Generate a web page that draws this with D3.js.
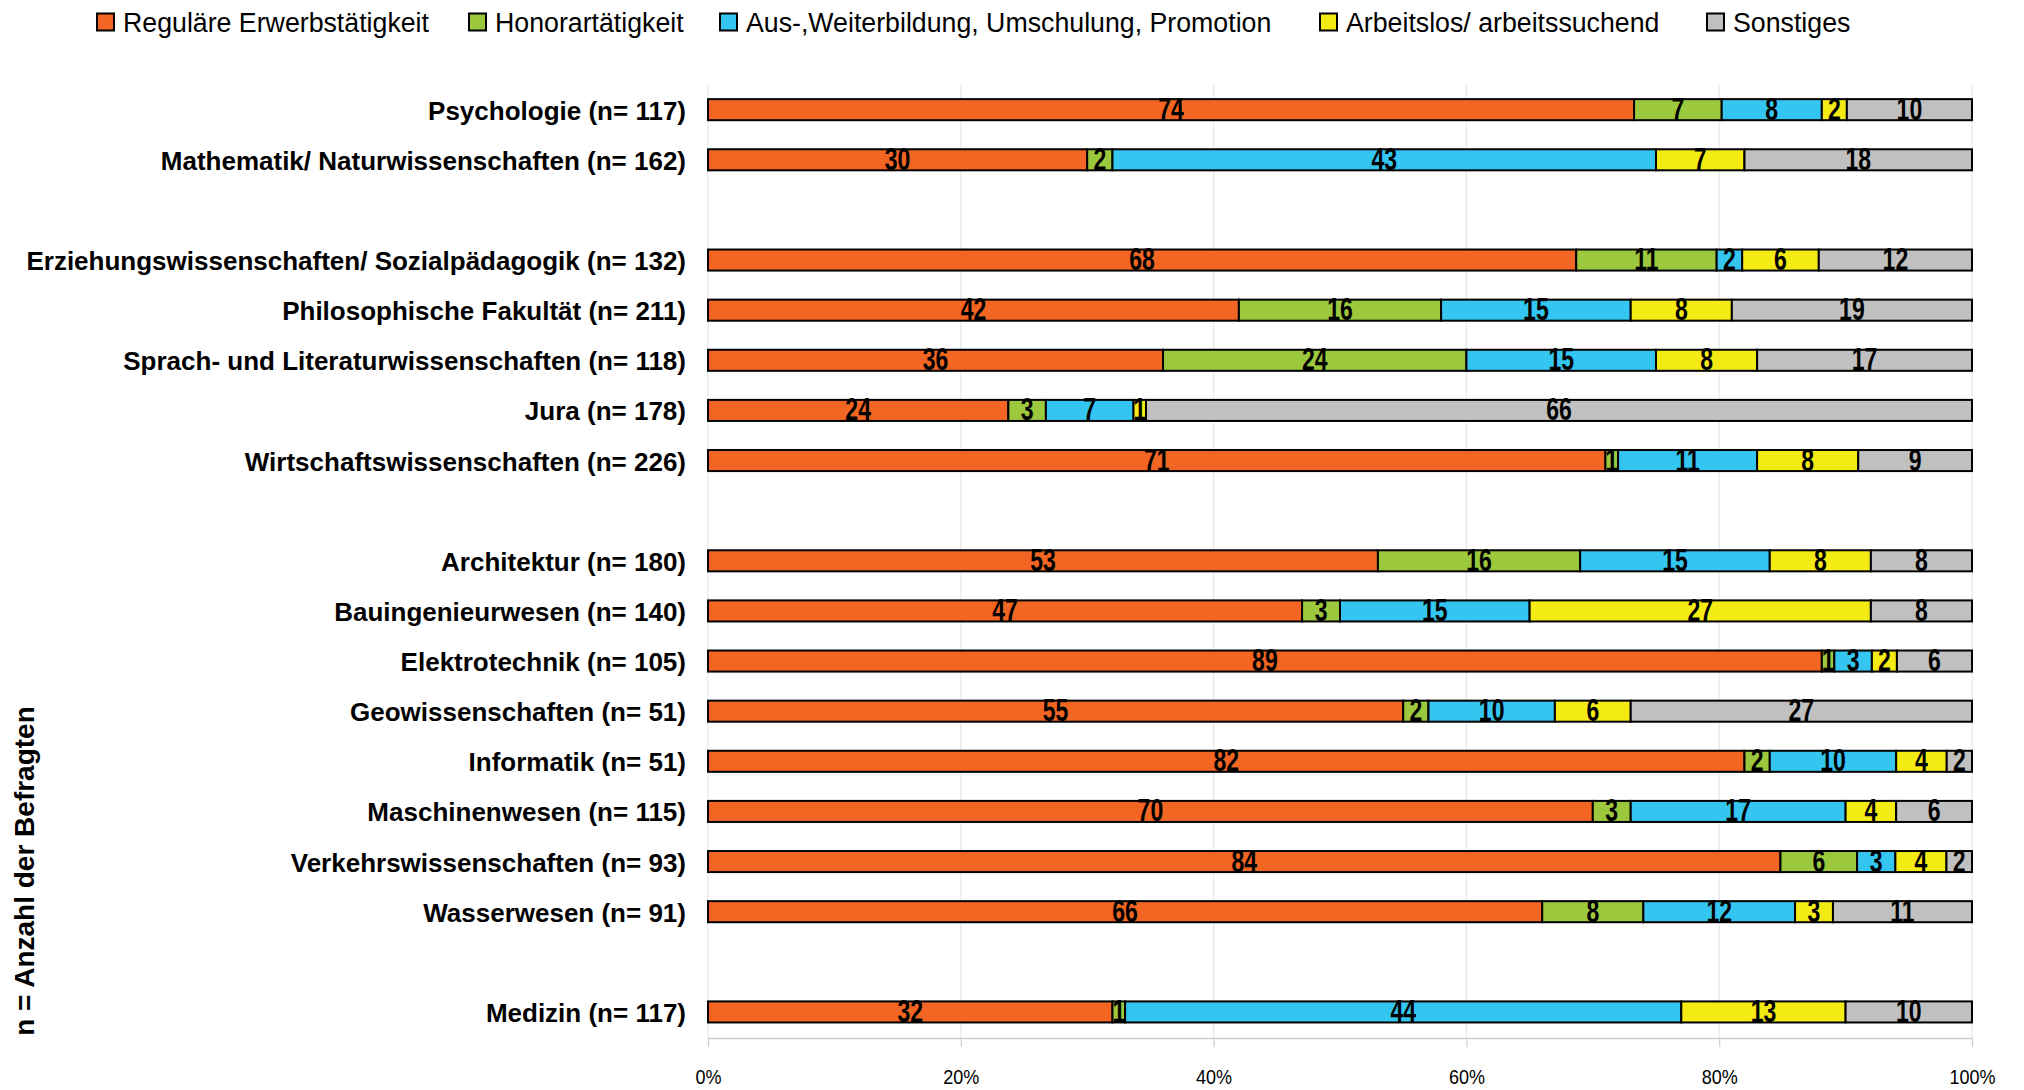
<!DOCTYPE html>
<html>
<head>
<meta charset="utf-8">
<script src="https://cdn.jsdelivr.net/npm/d3@7"></script>
<style>
  html, body { margin: 0; padding: 0; background: #fff; }
  svg { display: block; font-family: "Liberation Sans", Arial, sans-serif; }
</style>
</head>
<body>
<svg id="chart" width="2024" height="1090"></svg>
<script>
// ---- data ----
const categories = [
  "Psychologie (n= 117)",
  "Mathematik/ Naturwissenschaften (n= 162)",
  "",
  "Erziehungswissenschaften/ Sozialpädagogik (n= 132)",
  "Philosophische Fakultät (n= 211)",
  "Sprach- und Literaturwissenschaften (n= 118)",
  "Jura (n= 178)",
  "Wirtschaftswissenschaften (n= 226)",
  "",
  "Architektur (n= 180)",
  "Bauingenieurwesen (n= 140)",
  "Elektrotechnik (n= 105)",
  "Geowissenschaften (n= 51)",
  "Informatik (n= 51)",
  "Maschinenwesen (n= 115)",
  "Verkehrswissenschaften (n= 93)",
  "Wasserwesen (n= 91)",
  "",
  "Medizin (n= 117)"
];
const seriesNames = [
  "Reguläre Erwerbstätigkeit",
  "Honorartätigkeit",
  "Aus-,Weiterbildung, Umschulung, Promotion",
  "Arbeitslos/ arbeitssuchend",
  "Sonstiges"
];
const regulaer   = [74, 30, null, 68, 42, 36, 24, 71, null, 53, 47, 89, 55, 82, 70, 84, 66, null, 32];
const honorar    = [ 7,  2, null, 11, 16, 24,  3,  1, null, 16,  3,  1,  2,  2,  3,  6,  8, null,  1];
const ausbildung = [ 8, 43, null,  2, 15, 15,  7, 11, null, 15, 15,  3, 10, 10, 17,  3, 12, null, 44];
const arbeitslos = [ 2,  7, null,  6,  8,  8,  1,  8, null,  8, 27,  2,  6,  4,  4,  4,  3, null, 13];
const sonstiges  = [10, 18, null, 12, 19, 17, 66,  9, null,  8,  8,  6, 27,  2,  6,  2, 11, null, 10];
const tickValues = [0, 0.2, 0.4, 0.6, 0.8, 1.0];
const tickLabels = ["0%", "20%", "40%", "60%", "80%", "100%"];
const yAxisTitle = "n = Anzahl der Befragten";
const colors = ["#F36523", "#9BC83C", "#35C5F1", "#F5EB14", "#C0C0C0"];

// ---- layout ----
const svg = d3.select("#chart");
const plotLeft = 708, plotRight = 1972, plotTop = 84.6, plotBottom = 1037;
const seriesArrays = [regulaer, honorar, ausbildung, arbeitslos, sonstiges];

const rows = categories.map((c, i) => {
  const r = { idx: i, label: c, gap: regulaer[i] == null };
  seriesNames.forEach((s, k) => { r[s] = seriesArrays[k][i] == null ? 0 : seriesArrays[k][i]; });
  return r;
});

const x = d3.scaleLinear().domain([0, 1]).range([plotLeft, plotRight]);
const y = d3.scaleBand().domain(rows.map(r => r.idx)).range([plotTop, plotBottom])
  .paddingInner(0.58).paddingOuter(0.29);

// gridlines
svg.append("g").selectAll("line").data(tickValues).join("line")
  .attr("x1", d => x(d)).attr("x2", d => x(d))
  .attr("y1", plotTop).attr("y2", plotBottom + 1)
  .attr("stroke", "#E8E8E8").attr("stroke-width", 1.2);

// x axis
const xAxis = d3.axisBottom(x).tickValues(tickValues).tickFormat((d, i) => tickLabels[i])
  .tickSize(9).tickSizeOuter(0);
const gx = svg.append("g").attr("transform", `translate(0,${plotBottom + 1})`).call(xAxis);
gx.select(".domain").attr("stroke", "#CFCFCF").attr("stroke-width", 1.5);
gx.selectAll(".tick line").attr("stroke", "#CFCFCF").attr("stroke-width", 1.2);
gx.selectAll(".tick text").attr("fill", "#000").attr("font-size", 20)
  .attr("font-family", "'Liberation Sans', Arial, sans-serif")
  .attr("y", 0).attr("dy", 0)
  .attr("transform", "translate(0,46) scale(0.9,1)");

// stacks
const dataRows = rows.filter(r => !r.gap);
const stack = d3.stack().keys(seriesNames).offset(d3.stackOffsetExpand);
const stacked = stack(dataRows);

const gBars = svg.append("g");
stacked.forEach((layer, k) => {
  gBars.append("g").selectAll("rect").data(layer).join("rect")
    .attr("x", d => x(d[0]))
    .attr("y", d => y(d.data.idx))
    .attr("width", d => Math.max(0, x(d[1]) - x(d[0])))
    .attr("height", y.bandwidth())
    .attr("fill", colors[k])
    .attr("stroke", "#000").attr("stroke-width", 2);
});

// value labels
stacked.forEach((layer, k) => {
  gBars.append("g").selectAll("text").data(layer).join("text")
    .attr("transform", d => `translate(${(x(d[0]) + x(d[1])) / 2},${y(d.data.idx) + y.bandwidth() / 2 + 10}) scale(0.72,1)`)
    .attr("text-anchor", "middle")
    .attr("font-size", 32).attr("font-weight", "bold").attr("fill", "#000")
    .text(d => d.data[seriesNames[k]]);
});

// category labels
svg.append("g").selectAll("text").data(dataRows).join("text")
  .attr("x", plotLeft - 22)
  .attr("y", d => y(d.idx) + y.bandwidth() / 2 + 10)
  .attr("text-anchor", "end")
  .attr("font-size", 26).attr("font-weight", "bold").attr("fill", "#000")
  .text(d => d.label);

// y axis title
svg.append("text")
  .attr("transform", "translate(34,871) rotate(-90)")
  .attr("text-anchor", "middle")
  .attr("font-size", 28).attr("font-weight", "bold").attr("fill", "#000")
  .text(yAxisTitle);

// legend
const legendX = [97, 469, 720, 1320, 1707];
const lg = svg.append("g").selectAll("g").data(seriesNames).join("g")
  .attr("transform", (d, i) => `translate(${legendX[i]},22)`);
lg.append("rect").attr("x", 0).attr("y", -8.5).attr("width", 17).attr("height", 17)
  .attr("fill", (d, i) => colors[i]).attr("stroke", "#000").attr("stroke-width", 2);
lg.append("text").attr("transform", "translate(26,10) scale(0.955,1)")
  .attr("font-size", 28).attr("fill", "#000")
  .text(d => d);
</script>
</body>
</html>
